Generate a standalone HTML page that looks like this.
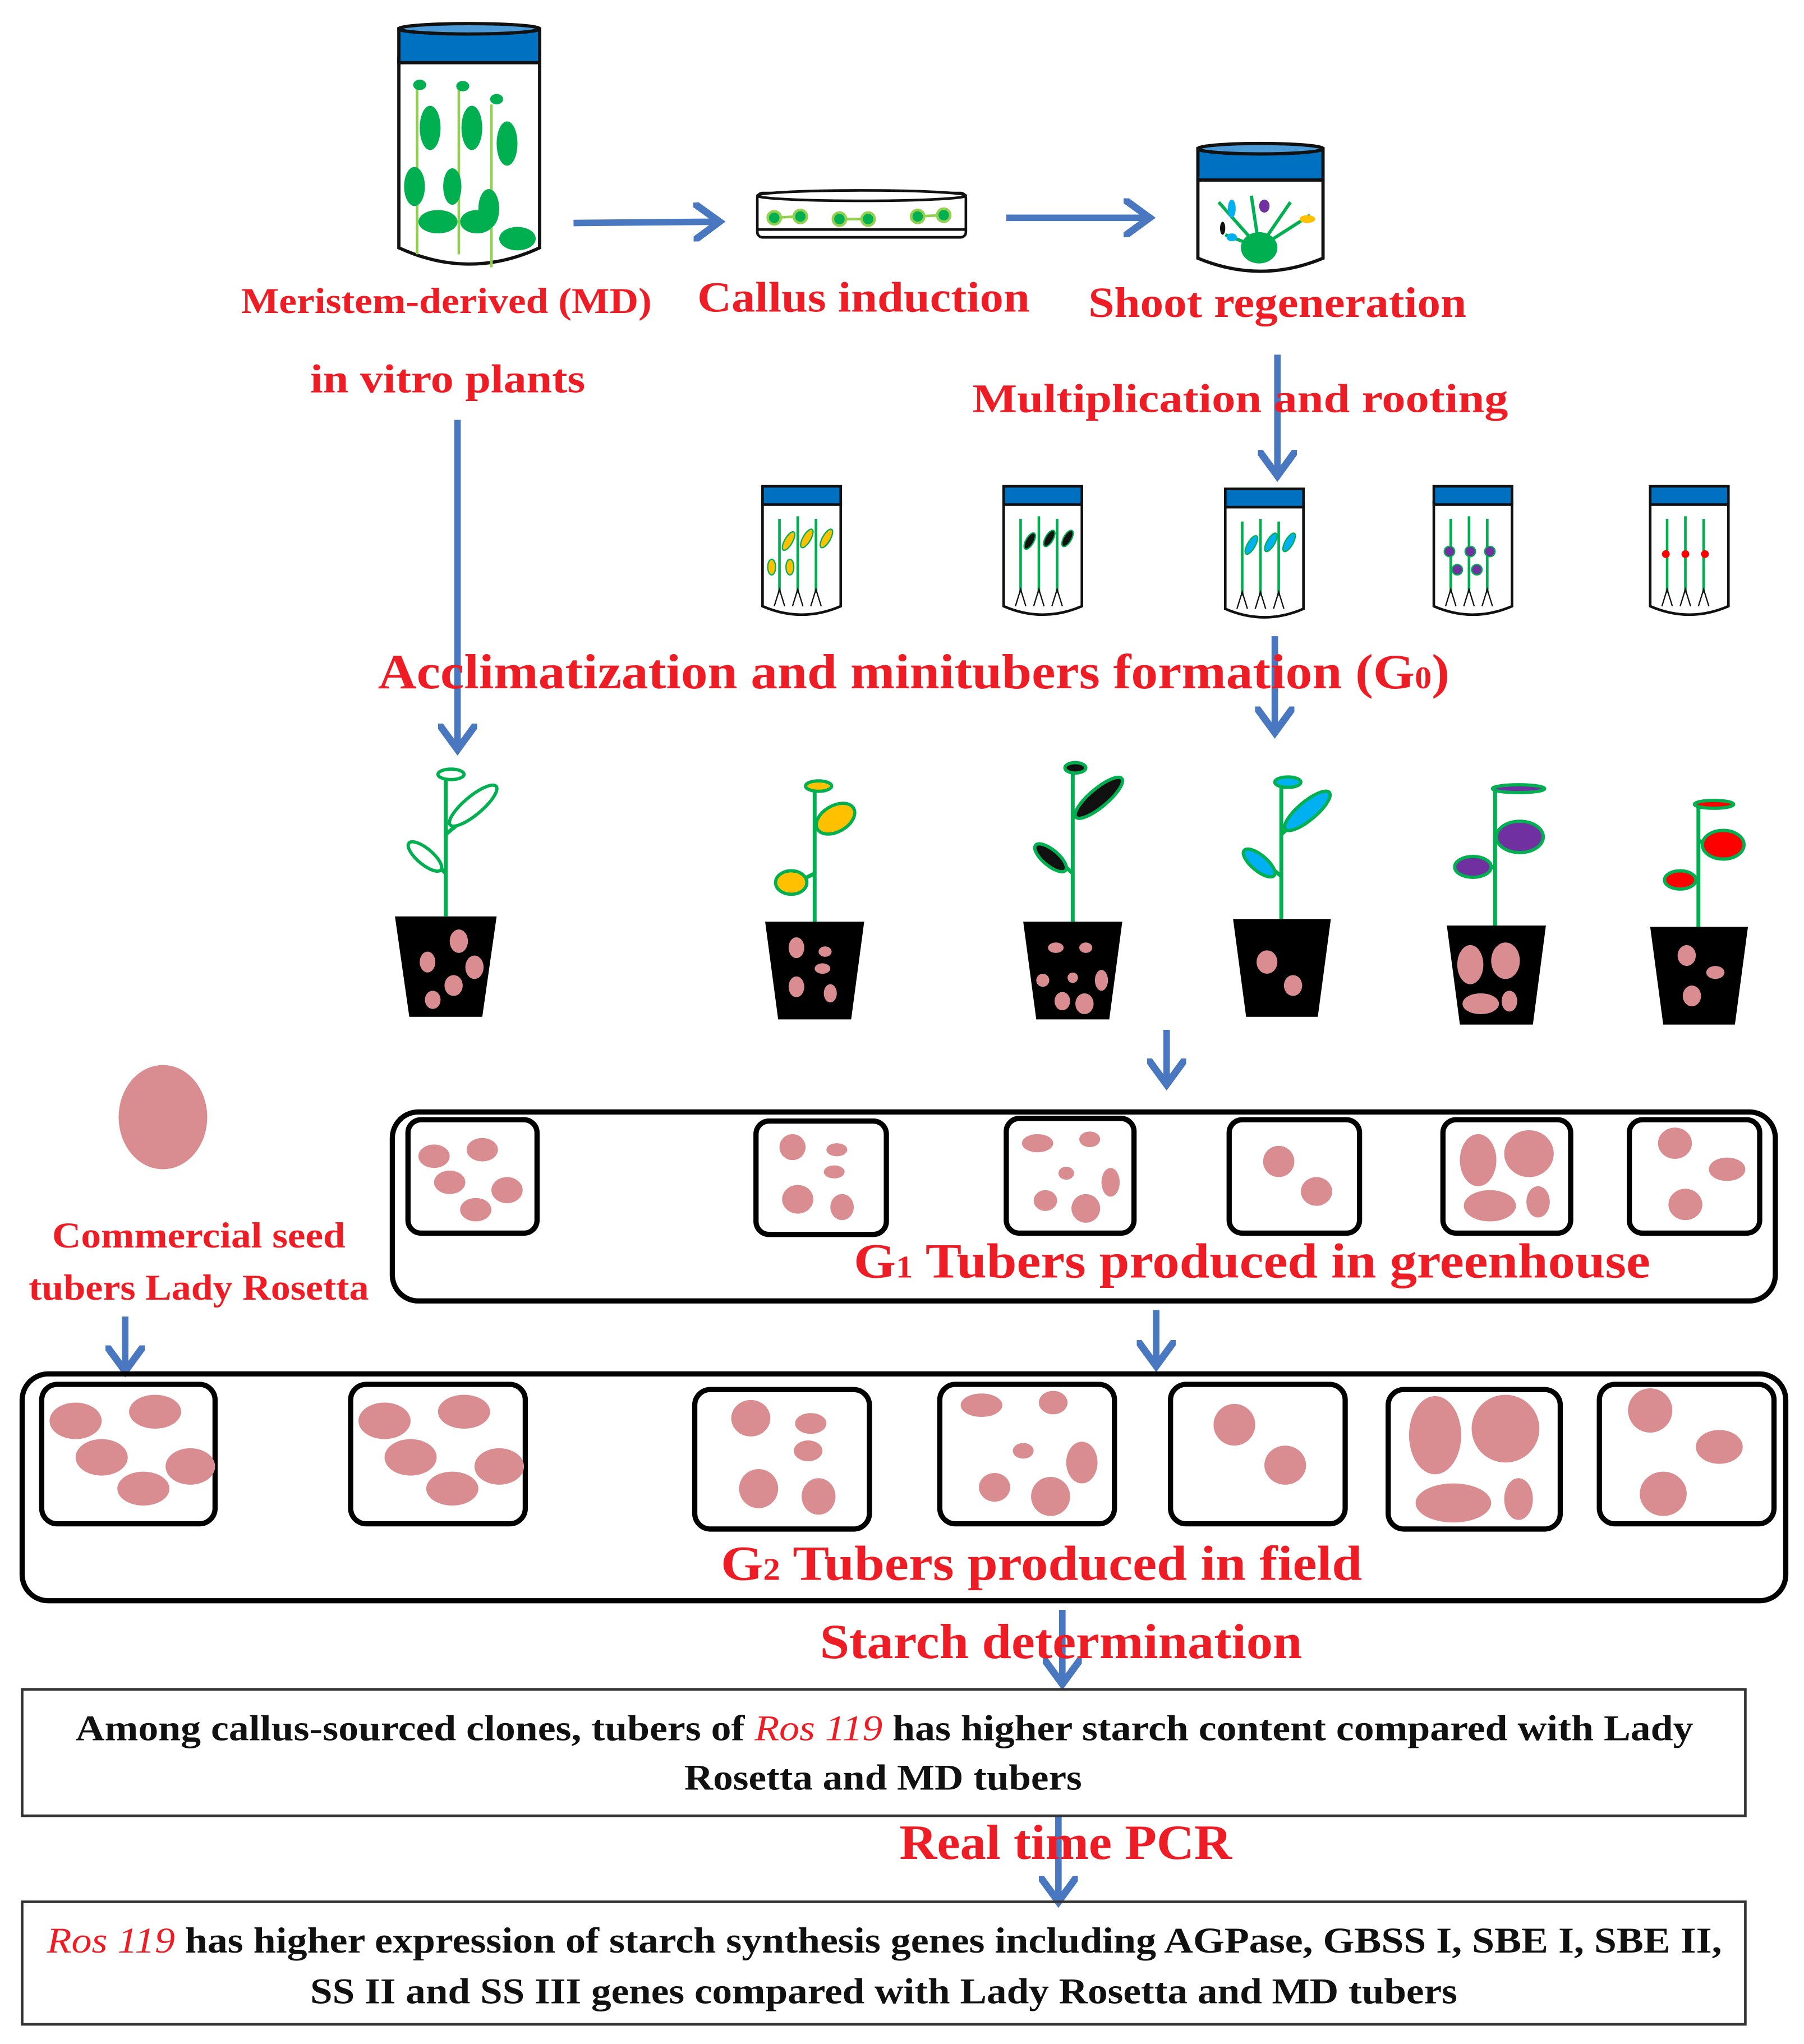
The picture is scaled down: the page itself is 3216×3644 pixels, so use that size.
<!DOCTYPE html>
<html><head><meta charset="utf-8"><style>
html,body{margin:0;padding:0;background:#fff}
svg{display:block}
text{font-family:"Liberation Serif",serif;font-weight:bold}
.r{fill:#ee1c24}
.k{fill:#111}
</style></head><body>
<svg width="3216" height="3644" viewBox="0 0 1384 1568" xmlns="http://www.w3.org/2000/svg">
<defs>
<marker id="ah" markerWidth="6" markerHeight="6" refX="4" refY="3" orient="auto" markerUnits="strokeWidth">
<path d="M0.3,0.3 L4,3 L0.3,5.7" fill="none" stroke="#4a78c0" stroke-width="1.1" stroke-linecap="round"/>
</marker>
</defs>
<g stroke="#4a78c0" stroke-width="5" fill="none" marker-end="url(#ah)">
<line x1="440" y1="171" x2="552" y2="170"/>
<line x1="772" y1="167" x2="882" y2="167"/>
<line x1="351" y1="322" x2="351" y2="575"/>
<line x1="980" y1="272" x2="980" y2="365"/>
<line x1="978" y1="488" x2="978" y2="562"/>
<line x1="895" y1="790" x2="895" y2="832"/>
<line x1="96" y1="1010" x2="96" y2="1052"/>
<line x1="887" y1="1005" x2="887" y2="1048"/>
<line x1="815" y1="1235" x2="815" y2="1292"/>
<line x1="812" y1="1393" x2="812" y2="1459"/>
</g>

<g stroke="#111" stroke-width="2.5">
<path d="M306,45 L306,190 Q360,215 414,190 L414,45 Z" fill="#fff"/>
<rect x="306" y="22" width="108" height="26" fill="#0070c0"/>
<ellipse cx="360" cy="22" rx="54" ry="4" fill="#4a9ad8"/>
</g>
<g fill="#00b050">
<line x1="320" y1="65" x2="320" y2="195" stroke="#92d050" stroke-width="2"/>
<line x1="352" y1="65" x2="352" y2="195" stroke="#92d050" stroke-width="2"/>
<line x1="377" y1="80" x2="377" y2="205" stroke="#92d050" stroke-width="2"/>
<ellipse cx="330" cy="98" rx="8" ry="17"/><ellipse cx="362" cy="98" rx="8" ry="17"/><ellipse cx="389" cy="110" rx="8" ry="17"/>
<ellipse cx="318" cy="143" rx="8" ry="15"/><ellipse cx="347" cy="143" rx="7" ry="14"/><ellipse cx="375" cy="160" rx="8" ry="15"/>
<ellipse cx="336" cy="170" rx="15" ry="9"/><ellipse cx="366" cy="170" rx="13" ry="9"/><ellipse cx="397" cy="183" rx="14" ry="9"/>
<ellipse cx="322" cy="65" rx="5" ry="4"/><ellipse cx="355" cy="66" rx="5" ry="4"/><ellipse cx="381" cy="76" rx="5" ry="4"/>
</g>
<g stroke="#111" stroke-width="2" fill="#fff">
<rect x="581" y="148" width="160" height="34" rx="4"/>
<ellipse cx="661" cy="150" rx="80" ry="4"/>
<line x1="581" y1="176" x2="741" y2="176"/>
</g>
<g fill="#00b050" stroke="#92d050" stroke-width="2">
<line x1="594" y1="167" x2="612" y2="166"/><line x1="644" y1="168" x2="665" y2="168"/><line x1="704" y1="166" x2="722" y2="165"/>
<circle cx="594" cy="167" r="5"/><circle cx="614" cy="166" r="5"/><circle cx="644" cy="168" r="5"/><circle cx="666" cy="168" r="5"/><circle cx="704" cy="166" r="5"/><circle cx="724" cy="165" r="5"/>
</g>
<g stroke="#111" stroke-width="2.5">
<path d="M919,138 L919,198 Q967,218 1015,198 L1015,138 Z" fill="#fff"/>
<rect x="919" y="114" width="96" height="24" fill="#0070c0"/>
<ellipse cx="967" cy="114" rx="48" ry="4" fill="#4a9ad8"/>
</g>
<g fill="#00b050">
<ellipse cx="966" cy="190" rx="14" ry="12"/>
<path d="M966,190 L935,155 M966,190 L960,150 M966,190 L990,155 M966,190 L1005,165 M966,190 L940,180" stroke="#00b050" stroke-width="2.5"/>
<ellipse cx="945" cy="160" rx="3" ry="7" fill="#00b0f0"/><ellipse cx="970" cy="158" rx="4" ry="5" fill="#7030a0"/><ellipse cx="1003" cy="168" rx="6" ry="3" fill="#ffc000"/><ellipse cx="945" cy="182" rx="4" ry="3" fill="#00b0f0"/><ellipse cx="938" cy="175" rx="2" ry="5" fill="#111"/>
</g>

<g lengthAdjust="spacingAndGlyphs">
<text class="r" x="185" y="240" font-size="28" textLength="315" lengthAdjust="spacingAndGlyphs">Meristem-derived (MD)</text>
<text class="r" x="535" y="239" font-size="33" textLength="255" lengthAdjust="spacingAndGlyphs">Callus induction</text>
<text class="r" x="835" y="243" font-size="33" textLength="290" lengthAdjust="spacingAndGlyphs">Shoot regeneration</text>
<text class="r" x="238" y="301" font-size="31" textLength="211" lengthAdjust="spacingAndGlyphs">in vitro plants</text>
<text class="r" x="746" y="316" font-size="31" textLength="411" lengthAdjust="spacingAndGlyphs">Multiplication and rooting</text>
</g>

<g id="sj">
<g stroke="#111" stroke-width="2">
<path d="M585,385 L585,465 Q615,478 645,465 L645,385 Z" fill="#fff"/>
<rect x="585" y="373" width="60" height="14" fill="#0070c0"/>
</g>
<g stroke="#00b050" stroke-width="2"><line x1="598" y1="398" x2="598" y2="455"/><line x1="612" y1="396" x2="612" y2="455"/><line x1="626" y1="398" x2="626" y2="455"/></g>
<g stroke="#111" stroke-width="1" fill="none"><path d="M594,465 L598,452 L602,465 M608,465 L612,452 L616,465 M622,465 L626,452 L630,465"/></g>
</g>
<g fill="#ffc000" stroke="#00b050" stroke-width="1"><ellipse cx="605" cy="415" rx="3" ry="8" transform="rotate(30 605 415)"/><ellipse cx="619" cy="413" rx="3" ry="8" transform="rotate(30 619 413)"/><ellipse cx="634" cy="413" rx="3" ry="8" transform="rotate(30 634 413)"/><ellipse cx="592" cy="435" rx="3" ry="6"/><ellipse cx="606" cy="435" rx="3" ry="6"/></g>
<use href="#sj" x="185"/>
<g fill="#111" stroke="#00b050" stroke-width="1"><ellipse cx="790" cy="415" rx="3" ry="7" transform="rotate(30 790 415)"/><ellipse cx="805" cy="413" rx="3" ry="7" transform="rotate(30 805 413)"/><ellipse cx="819" cy="413" rx="3" ry="7" transform="rotate(30 819 413)"/></g>
<use href="#sj" x="355" y="2"/>
<g fill="#00b0f0" stroke="#00b050" stroke-width="1"><ellipse cx="960" cy="418" rx="3" ry="8" transform="rotate(30 960 418)"/><ellipse cx="975" cy="416" rx="3" ry="8" transform="rotate(30 975 416)"/><ellipse cx="989" cy="416" rx="3" ry="8" transform="rotate(30 989 416)"/></g>
<use href="#sj" x="515"/>
<g fill="#7030a0" stroke="#00b050" stroke-width="1"><circle cx="1112" cy="423" r="4"/><circle cx="1128" cy="423" r="4"/><circle cx="1143" cy="423" r="4"/><circle cx="1118" cy="437" r="4"/><circle cx="1133" cy="437" r="4"/></g>
<use href="#sj" x="681"/>
<g fill="#ff0000"><circle cx="1278" cy="425" r="3"/><circle cx="1293" cy="425" r="3"/><circle cx="1308" cy="425" r="3"/></g>

<text class="r" x="290" y="528" font-size="38" textLength="822" lengthAdjust="spacingAndGlyphs">Acclimatization and minitubers formation (G<tspan font-size="24">0</tspan>)</text>

<g fill="#000">
<path d="M303,703 L381,703 L370,780 L314,780 Z"/>
<path d="M587,707 L663,707 L653,782 L597,782 Z"/>
<path d="M785,707 L861,707 L851,782 L795,782 Z"/>
<path d="M946,705 L1021,705 L1011,780 L956,780 Z"/>
<path d="M1110,710 L1186,710 L1176,786 L1120,786 Z"/>
<path d="M1266,711 L1341,711 L1331,786 L1276,786 Z"/>
</g>
<g fill="#d98d90">
<ellipse cx="352" cy="722" rx="7" ry="9"/><ellipse cx="328" cy="738" rx="6" ry="8"/><ellipse cx="364" cy="742" rx="7" ry="9"/><ellipse cx="348" cy="756" rx="7" ry="8"/><ellipse cx="332" cy="767" rx="6" ry="7"/>
<ellipse cx="611" cy="727" rx="6" ry="8"/><ellipse cx="633" cy="730" rx="5" ry="4"/><ellipse cx="631" cy="743" rx="6" ry="4"/><ellipse cx="611" cy="757" rx="6" ry="8"/><ellipse cx="637" cy="762" rx="5" ry="7"/>
<ellipse cx="810" cy="727" rx="6" ry="4"/><ellipse cx="833" cy="727" rx="5" ry="4"/><ellipse cx="823" cy="750" rx="4" ry="4"/><ellipse cx="845" cy="752" rx="5" ry="8"/><ellipse cx="815" cy="768" rx="6" ry="7"/><ellipse cx="832" cy="770" rx="7" ry="8"/><ellipse cx="800" cy="752" rx="5" ry="5"/>
<ellipse cx="972" cy="738" rx="8" ry="9"/><ellipse cx="992" cy="756" rx="7" ry="8"/>
<ellipse cx="1128" cy="740" rx="10" ry="15"/><ellipse cx="1155" cy="737" rx="11" ry="14"/><ellipse cx="1136" cy="770" rx="14" ry="8"/><ellipse cx="1158" cy="768" rx="6" ry="8"/>
<ellipse cx="1294" cy="733" rx="7" ry="8"/><ellipse cx="1316" cy="746" rx="7" ry="5"/><ellipse cx="1298" cy="764" rx="7" ry="8"/>
</g>
<g stroke="#00b050" stroke-width="3" fill="none">
<path d="M342,703 L342,595 M342,640 L360,625 M342,670 L332,660"/>
<path d="M625,707 L625,605 M625,635 L640,628 M625,670 L615,675"/>
<path d="M823,707 L823,590 M823,625 L842,608 M823,670 L810,658"/>
<path d="M983,705 L983,600 M983,640 L1000,625 M983,672 L970,662"/>
<path d="M1147,710 L1147,605 M1147,640 L1165,640 M1147,665 L1132,665"/>
<path d="M1303,711 L1303,615 M1303,645 L1320,650 M1303,675 L1290,675"/>
</g>
<g stroke="#00b050" stroke-width="2.5">
<ellipse cx="363" cy="618" rx="23" ry="7" transform="rotate(-40 363 618)" fill="#fff"/>
<ellipse cx="326" cy="657" rx="16" ry="6" transform="rotate(40 326 657)" fill="#fff"/>
<ellipse cx="346" cy="594" rx="10" ry="4" fill="#fff"/>
<ellipse cx="641" cy="628" rx="16" ry="10" transform="rotate(-30 641 628)" fill="#ffc000"/>
<ellipse cx="607" cy="677" rx="12" ry="9" fill="#ffc000"/>
<ellipse cx="628" cy="603" rx="10" ry="4" fill="#ffc000"/>
<ellipse cx="843" cy="612" rx="23" ry="7" transform="rotate(-40 843 612)" fill="#111"/>
<ellipse cx="806" cy="658" rx="15" ry="6" transform="rotate(40 806 658)" fill="#111"/>
<ellipse cx="825" cy="589" rx="8" ry="4" fill="#111"/>
<ellipse cx="1003" cy="622" rx="22" ry="7" transform="rotate(-40 1003 622)" fill="#00b0f0"/>
<ellipse cx="966" cy="662" rx="15" ry="6" transform="rotate(40 966 662)" fill="#00b0f0"/>
<ellipse cx="988" cy="600" rx="10" ry="4" fill="#00b0f0"/>
<ellipse cx="1166" cy="642" rx="18" ry="12" fill="#7030a0"/>
<ellipse cx="1130" cy="665" rx="14" ry="8" fill="#7030a0"/>
<ellipse cx="1165" cy="605" rx="20" ry="3" fill="#7030a0"/>
<ellipse cx="1322" cy="648" rx="16" ry="11" fill="#ff0000"/>
<ellipse cx="1289" cy="675" rx="12" ry="7" fill="#ff0000"/>
<ellipse cx="1315" cy="617" rx="15" ry="3" fill="#ff0000"/>
</g>

<ellipse cx="125" cy="857" rx="34" ry="40" fill="#d98d90"/>
<text class="r" x="40" y="957" font-size="28" textLength="225" lengthAdjust="spacingAndGlyphs">Commercial seed</text>
<text class="r" x="22" y="997" font-size="28" textLength="261" lengthAdjust="spacingAndGlyphs">tubers Lady Rosetta</text>

<g stroke="#000" stroke-width="4" fill="none">
<rect x="301" y="853" width="1061" height="145" rx="20"/>
<rect x="313" y="859" width="99" height="87" rx="10"/>
<rect x="580" y="860" width="100" height="87" rx="10"/>
<rect x="772" y="858" width="98" height="88" rx="10"/>
<rect x="943" y="859" width="100" height="87" rx="10"/>
<rect x="1107" y="859" width="98" height="87" rx="10"/>
<rect x="1250" y="859" width="100" height="87" rx="10"/>
</g>
<g fill="#d98d90">
<ellipse cx="333" cy="887" rx="12" ry="9"/><ellipse cx="370" cy="882" rx="12" ry="9"/><ellipse cx="345" cy="907" rx="12" ry="9"/><ellipse cx="389" cy="913" rx="12" ry="10"/><ellipse cx="365" cy="928" rx="12" ry="9"/>
<ellipse cx="608" cy="880" rx="10" ry="10"/><ellipse cx="642" cy="882" rx="8" ry="5"/><ellipse cx="640" cy="899" rx="8" ry="5"/><ellipse cx="612" cy="920" rx="12" ry="11"/><ellipse cx="646" cy="926" rx="9" ry="10"/>
<ellipse cx="796" cy="877" rx="12" ry="7"/><ellipse cx="836" cy="874" rx="8" ry="6"/><ellipse cx="818" cy="900" rx="6" ry="5"/><ellipse cx="852" cy="907" rx="7" ry="11"/><ellipse cx="802" cy="921" rx="9" ry="8"/><ellipse cx="833" cy="927" rx="11" ry="11"/>
<ellipse cx="981" cy="891" rx="12" ry="12"/><ellipse cx="1010" cy="914" rx="12" ry="11"/>
<ellipse cx="1134" cy="890" rx="14" ry="20"/><ellipse cx="1173" cy="885" rx="19" ry="18"/><ellipse cx="1143" cy="925" rx="20" ry="12"/><ellipse cx="1180" cy="922" rx="9" ry="12"/>
<ellipse cx="1285" cy="877" rx="13" ry="12"/><ellipse cx="1325" cy="897" rx="14" ry="9"/><ellipse cx="1293" cy="924" rx="13" ry="12"/>
</g>
<text class="r" x="655" y="980" font-size="38" textLength="611" lengthAdjust="spacingAndGlyphs">G<tspan font-size="24">1</tspan> Tubers produced in greenhouse</text>

<g stroke="#000" stroke-width="4" fill="none">
<rect x="17" y="1054" width="1353" height="174" rx="20"/>
<rect x="32" y="1062" width="133" height="107" rx="12"/>
<rect x="269" y="1062" width="134" height="107" rx="12"/>
<rect x="533" y="1066" width="134" height="107" rx="12"/>
<rect x="721" y="1062" width="134" height="107" rx="12"/>
<rect x="898" y="1062" width="134" height="107" rx="12"/>
<rect x="1065" y="1066" width="132" height="107" rx="12"/>
<rect x="1227" y="1062" width="134" height="107" rx="12"/>
</g>
<g fill="#d98d90">
<ellipse cx="58" cy="1090" rx="20" ry="14"/><ellipse cx="119" cy="1083" rx="20" ry="13"/><ellipse cx="78" cy="1118" rx="20" ry="14"/><ellipse cx="146" cy="1125" rx="19" ry="14"/><ellipse cx="110" cy="1142" rx="20" ry="13"/>
<ellipse cx="295" cy="1090" rx="20" ry="14"/><ellipse cx="356" cy="1083" rx="20" ry="13"/><ellipse cx="315" cy="1118" rx="20" ry="14"/><ellipse cx="383" cy="1125" rx="19" ry="14"/><ellipse cx="347" cy="1142" rx="20" ry="13"/>
<ellipse cx="576" cy="1088" rx="15" ry="14"/><ellipse cx="622" cy="1092" rx="12" ry="8"/><ellipse cx="620" cy="1113" rx="11" ry="8"/><ellipse cx="582" cy="1142" rx="15" ry="15"/><ellipse cx="628" cy="1148" rx="13" ry="14"/>
<ellipse cx="753" cy="1078" rx="16" ry="9"/><ellipse cx="808" cy="1076" rx="11" ry="9"/><ellipse cx="785" cy="1113" rx="8" ry="6"/><ellipse cx="830" cy="1122" rx="12" ry="16"/><ellipse cx="763" cy="1141" rx="12" ry="11"/><ellipse cx="806" cy="1148" rx="15" ry="15"/>
<ellipse cx="947" cy="1093" rx="16" ry="16"/><ellipse cx="986" cy="1124" rx="16" ry="15"/>
<ellipse cx="1101" cy="1101" rx="20" ry="30"/><ellipse cx="1155" cy="1096" rx="26" ry="26"/><ellipse cx="1115" cy="1153" rx="29" ry="15"/><ellipse cx="1165" cy="1150" rx="11" ry="16"/>
<ellipse cx="1266" cy="1082" rx="17" ry="17"/><ellipse cx="1319" cy="1110" rx="18" ry="13"/><ellipse cx="1276" cy="1146" rx="18" ry="17"/>
</g>
<text class="r" x="553" y="1212" font-size="38" textLength="492" lengthAdjust="spacingAndGlyphs">G<tspan font-size="24">2</tspan> Tubers produced in field</text>

<text class="r" x="629" y="1272" font-size="38" textLength="370" lengthAdjust="spacingAndGlyphs">Starch determination</text>
<rect x="17" y="1296" width="1322" height="97" fill="none" stroke="#333" stroke-width="2"/>
<text class="k" x="58" y="1335" font-size="28" textLength="1241" lengthAdjust="spacingAndGlyphs">Among callus-sourced clones, tubers of <tspan class="r" font-style="italic" font-weight="normal">Ros 119</tspan> has higher starch content compared with Lady</text>
<text class="k" x="525" y="1373" font-size="28" textLength="305" lengthAdjust="spacingAndGlyphs">Rosetta and MD tubers</text>

<text class="r" x="690" y="1426" font-size="38" textLength="255" lengthAdjust="spacingAndGlyphs">Real time PCR</text>
<rect x="17" y="1459" width="1322" height="94" fill="none" stroke="#333" stroke-width="2"/>
<text class="k" x="36" y="1498" font-size="28" textLength="1285" lengthAdjust="spacingAndGlyphs"><tspan class="r" font-style="italic" font-weight="normal">Ros 119</tspan> has higher expression of starch synthesis genes including AGPase, GBSS I, SBE I, SBE II,</text>
<text class="k" x="238" y="1537" font-size="28" textLength="880" lengthAdjust="spacingAndGlyphs">SS II and SS III genes compared with Lady Rosetta and MD tubers</text>
</svg>
</body></html>
